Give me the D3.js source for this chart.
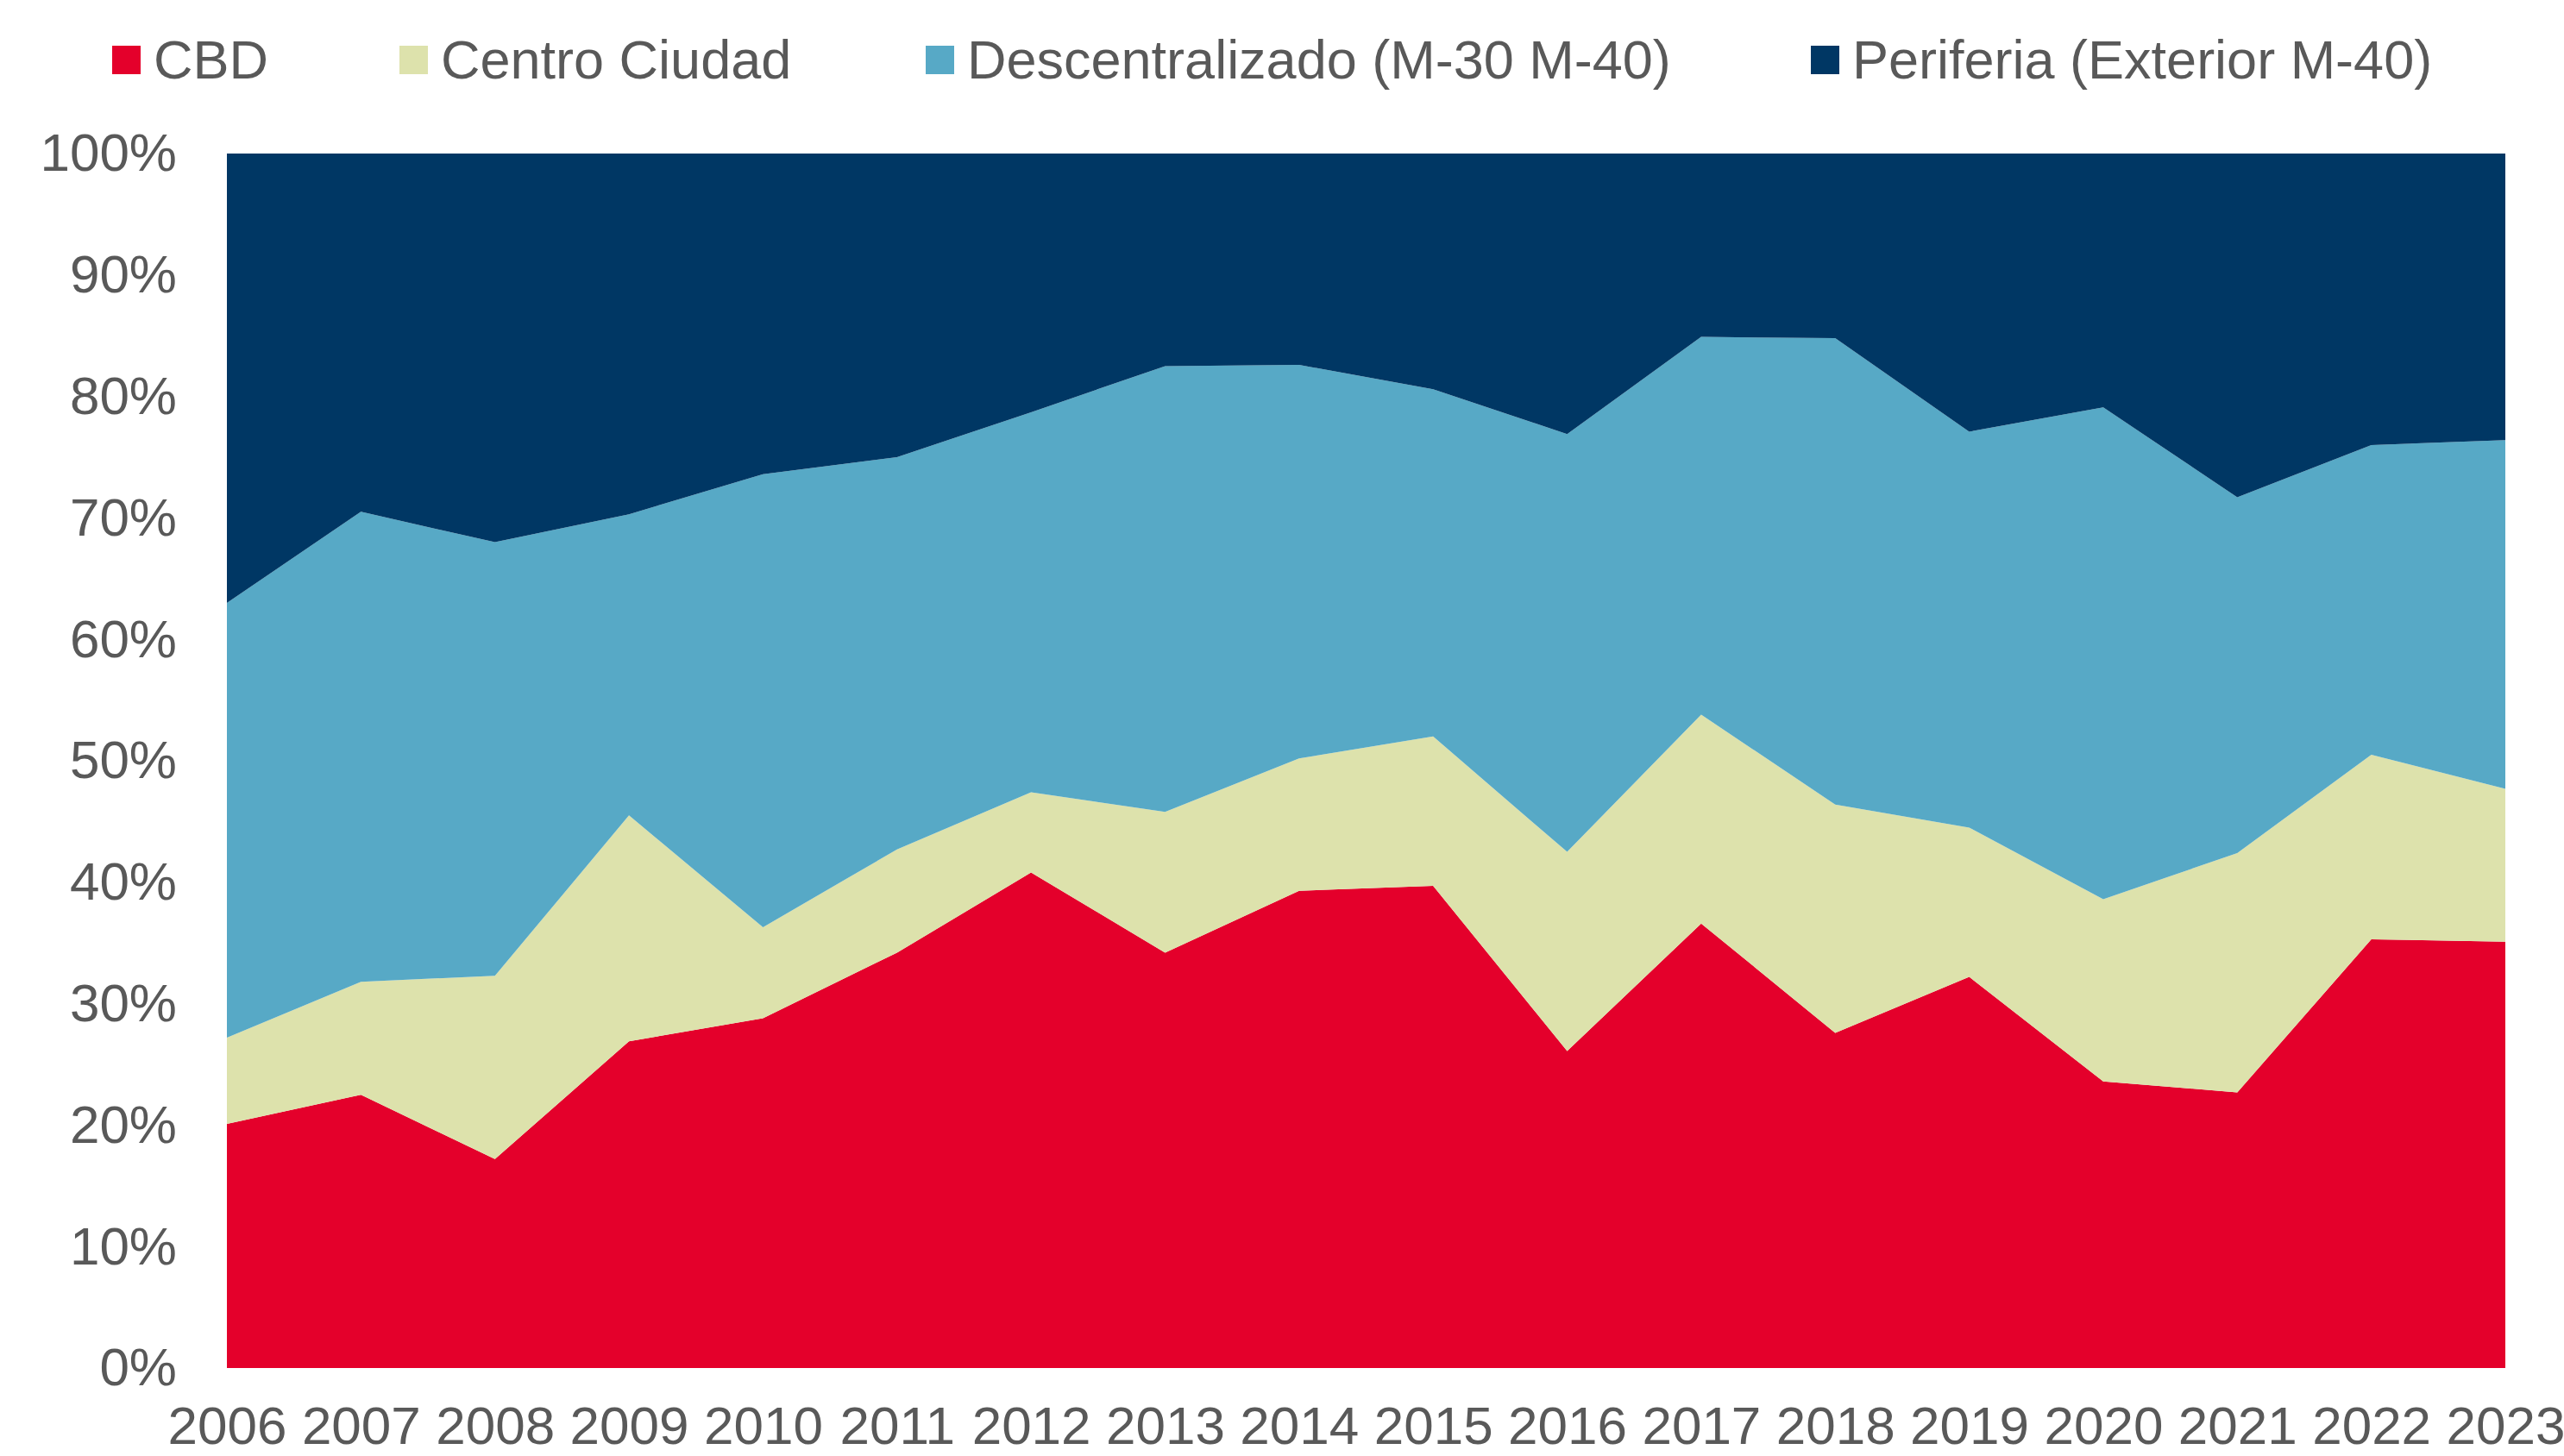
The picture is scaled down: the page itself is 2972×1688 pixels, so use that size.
<!DOCTYPE html>
<html>
<head>
<meta charset="utf-8">
<script src="https://cdn.jsdelivr.net/npm/d3@7"></script>
<style>
  body { margin: 0; background: #fff; }
  text { font-family: "Liberation Sans", Arial, sans-serif; fill: #595959; }
</style>
</head>
<body>
<div id="chart"></div>
<script>
// Years on the x axis
const years = [2006, 2007, 2008, 2009, 2010, 2011, 2012, 2013, 2014, 2015, 2016, 2017, 2018, 2019, 2020, 2021, 2022, 2023];

// Share of each zone (%)
const cbd = [20.1, 22.5, 17.2, 26.9, 28.8, 34.2, 40.8, 34.2, 39.3, 39.7, 26.1, 36.6, 27.6, 32.2, 23.6, 22.7, 35.3, 35.1];
const centro = [7.1, 9.3, 15.1, 18.6, 7.5, 8.5, 6.6, 11.6, 10.9, 12.3, 16.4, 17.2, 18.8, 12.3, 15.0, 19.7, 15.2, 12.6];
const descentralizado = [35.8, 38.7, 35.7, 24.8, 37.3, 32.3, 31.3, 36.7, 32.4, 28.6, 34.4, 31.1, 38.4, 32.6, 40.5, 29.3, 25.5, 28.7];
const periferia = years.map((y, i) => 100 - cbd[i] - centro[i] - descentralizado[i]);

const seriesNames = ["CBD", "Centro Ciudad", "Descentralizado (M-30 M-40)", "Periferia (Exterior M-40)"];
const seriesColors = ["#e4002b", "#dde2ac", "#57a9c6", "#003764"];
const yTicks = [0, 10, 20, 30, 40, 50, 60, 70, 80, 90, 100];

const width = 2972;
const height = 1688;
const margin = { top: 178, right: 68, bottom: 102, left: 263 };

const rows = years.map((y, i) => ({
    year: y,
    s0: cbd[i],
    s1: centro[i],
    s2: descentralizado[i],
    s3: periferia[i]
}));
const keys = ["s0", "s1", "s2", "s3"];

const svg = d3.select("#chart")
    .append("svg")
    .attr("width", width)
    .attr("height", height);

const xScale = d3.scalePoint()
    .domain(years)
    .range([margin.left, width - margin.right]);

const yScale = d3.scaleLinear()
    .domain([0, 100])
    .range([height - margin.bottom, margin.top]);

const stacked = d3.stack().keys(keys)(rows);

const area = d3.area()
    .x(d => xScale(d.data.year))
    .y0(d => yScale(d[0]))
    .y1(d => yScale(d[1]));

svg.append("g")
    .selectAll("path")
    .data(stacked)
    .enter()
    .append("path")
    .attr("d", area)
    .attr("fill", (d, i) => seriesColors[i]);

// y axis
const yAxis = svg.append("g")
    .attr("transform", `translate(${margin.left}, 0)`)
    .call(d3.axisLeft(yScale).tickValues(yTicks).tickSize(0).tickPadding(58).tickFormat(d => d + "%"));
yAxis.select(".domain").remove();
yAxis.selectAll("text").attr("font-size", 62);
yAxis.attr("font-family", null);

// x axis
const xAxis = svg.append("g")
    .attr("transform", `translate(0, ${height - margin.bottom})`)
    .call(d3.axisBottom(xScale).tickSize(0).tickPadding(44));
xAxis.select(".domain").remove();
xAxis.selectAll("text").attr("font-size", 62);
xAxis.attr("font-family", null);

// legend
const legendX = [130, 463, 1073, 2099];
const legend = svg.append("g");
seriesNames.forEach((name, i) => {
    legend.append("rect")
        .attr("x", legendX[i])
        .attr("y", 53)
        .attr("width", 33)
        .attr("height", 33)
        .attr("fill", seriesColors[i]);
    legend.append("text")
        .attr("x", legendX[i] + 48)
        .attr("y", 91)
        .attr("font-size", 63)
        .text(name);
});
</script>
</body>
</html>
